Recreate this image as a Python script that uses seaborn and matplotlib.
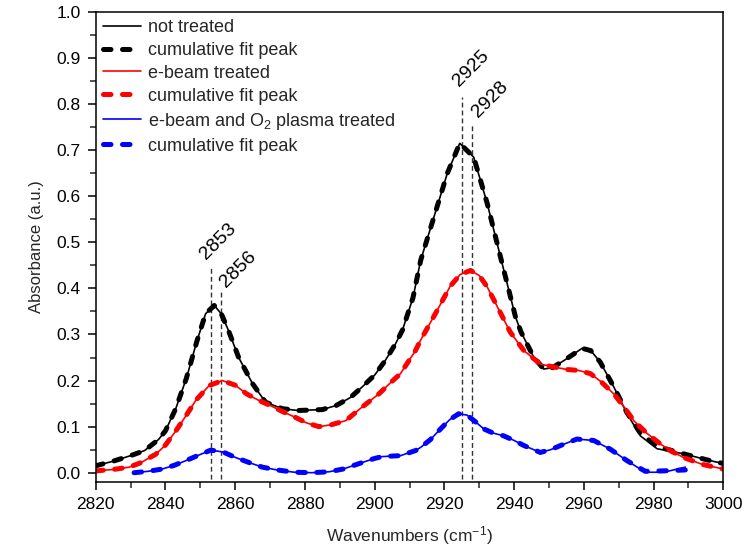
import numpy as np
import pandas as pd
import seaborn as sns
import matplotlib
matplotlib.use("Agg")
import matplotlib.pyplot as plt
from matplotlib.ticker import MultipleLocator, FormatStrFormatter

# ---------------- data ----------------
nt_x = [2820, 2825, 2830, 2834, 2838, 2840, 2843, 2846, 2849, 2851.5, 2854, 2856, 2858, 2861,
        2865, 2868.7, 2873.5, 2878, 2885, 2889, 2893, 2896.4, 2900, 2903, 2906, 2908, 2911,
        2913.2, 2917, 2920.8, 2924.4, 2928.4, 2932.3, 2936.1, 2940.4, 2942, 2945.6, 2948.5,
        2951, 2954.2, 2959.5, 2962, 2964.7, 2968.6, 2972.4, 2976.2, 2981, 2988.6, 2996.3, 3000]
nt_y = [0.015, 0.025, 0.037, 0.048, 0.072, 0.091, 0.14, 0.205, 0.285, 0.345, 0.363, 0.345, 0.31, 0.25,
        0.193, 0.153, 0.139, 0.135, 0.137, 0.146, 0.163, 0.186, 0.212, 0.243, 0.28, 0.31, 0.38,
        0.461, 0.555, 0.649, 0.715, 0.685, 0.584, 0.468, 0.338, 0.305, 0.251, 0.225,
        0.228, 0.243, 0.27, 0.265, 0.24, 0.186, 0.128, 0.08, 0.052, 0.041, 0.026, 0.02]
nt_fit_y = [0.015, 0.025, 0.037, 0.048, 0.072, 0.091, 0.14, 0.205, 0.285, 0.345, 0.363, 0.345, 0.31, 0.25,
            0.193, 0.153, 0.139, 0.135, 0.137, 0.146, 0.163, 0.186, 0.212, 0.243, 0.28, 0.31, 0.38,
            0.461, 0.555, 0.649, 0.715, 0.685, 0.584, 0.468, 0.338, 0.305, 0.251, 0.225,
            0.228, 0.243, 0.27, 0.265, 0.24, 0.186, 0.13, 0.086, 0.057, 0.041, 0.026, 0.02]

eb_x = [2820, 2825, 2829.6, 2833, 2837.2, 2840, 2843, 2846, 2848.7, 2852.5, 2856.3, 2860, 2863.3,
        2866.5, 2870, 2873.5, 2877.3, 2880.5, 2884, 2887.5, 2891.7, 2896, 2901.2, 2904.5, 2907.4,
        2911.7, 2913.2, 2917.4, 2919.9, 2921.7, 2924.5, 2927.5, 2930, 2932.3, 2935.2, 2938.9,
        2942.8, 2947.5, 2951, 2955.2, 2958.5, 2961.9, 2965, 2968.6, 2971.5, 2974.3, 2978, 2982,
        2985, 2988.6, 2994, 3000]
eb_y = [0.004, 0.007, 0.012, 0.022, 0.04, 0.06, 0.091, 0.125, 0.157, 0.189, 0.2, 0.19, 0.171,
        0.158, 0.146, 0.133, 0.12, 0.108, 0.1, 0.104, 0.113, 0.14, 0.171, 0.195, 0.215,
        0.265, 0.288, 0.345, 0.38, 0.405, 0.43, 0.439, 0.428, 0.403, 0.36, 0.305,
        0.265, 0.236, 0.23, 0.224, 0.222, 0.215, 0.197, 0.171, 0.143, 0.113, 0.086, 0.062,
        0.047, 0.033, 0.018, 0.008]
eb_fit_y = [0.004, 0.007, 0.012, 0.022, 0.04, 0.06, 0.091, 0.125, 0.157, 0.189, 0.2, 0.19, 0.171,
            0.158, 0.146, 0.133, 0.12, 0.108, 0.1, 0.104, 0.113, 0.14, 0.171, 0.195, 0.215,
            0.265, 0.288, 0.345, 0.38, 0.405, 0.43, 0.439, 0.428, 0.403, 0.36, 0.305,
            0.265, 0.236, 0.23, 0.224, 0.222, 0.215, 0.197, 0.171, 0.143, 0.113, 0.086, 0.062,
            0.047, 0.033, 0.018, 0.008]

o2_x = [2831, 2835, 2839.1, 2842.5, 2845.8, 2849.5, 2853, 2856.5, 2860.1, 2864, 2867.8, 2872, 2877,
        2882, 2886.9, 2891, 2896.4, 2900, 2902.2, 2907.4, 2911.7, 2913.2, 2916, 2918.9, 2921.5,
        2924.1, 2926.5, 2929, 2931.3, 2934, 2937, 2940, 2942.8, 2947.5, 2950.5, 2953.3, 2958,
        2962.8, 2967.6, 2972.4, 2977.6, 2982.9, 2989.1]
o2_y = [0.0, 0.003, 0.008, 0.016, 0.026, 0.038, 0.049, 0.045, 0.033, 0.022, 0.012, 0.006, 0.001,
        0.0, 0.002, 0.008, 0.022, 0.031, 0.035, 0.037, 0.048, 0.055, 0.072, 0.095, 0.115,
        0.128, 0.125, 0.11, 0.095, 0.086, 0.08, 0.07, 0.059, 0.044, 0.05, 0.059, 0.073,
        0.07, 0.051, 0.026, 0.001, 0.001, 0.012]
o2_fit_y = [0.0, 0.003, 0.008, 0.016, 0.026, 0.038, 0.049, 0.045, 0.033, 0.022, 0.012, 0.006, 0.001,
            0.0, 0.002, 0.008, 0.022, 0.031, 0.035, 0.037, 0.048, 0.055, 0.072, 0.095, 0.115,
            0.128, 0.125, 0.11, 0.095, 0.086, 0.08, 0.07, 0.059, 0.044, 0.05, 0.059, 0.073,
            0.07, 0.051, 0.026, 0.003, 0.004, 0.006]

labels = ["not treated", "cumulative fit peak", "e-beam treated", "cumulative fit peak",
          "e-beam and O$_2$ plasma treated", "cumulative fit peak"]
peak_pos = [2853, 2856, 2925, 2928]
peak_top = [0.446, 0.396, 0.816, 0.754]
peak_lbl = ["2853", "2856", "2925", "2928"]

# ---------------- style ----------------
sns.set_style("ticks")
plt.rcParams["font.family"] = ["Liberation Sans", "DejaVu Sans"]
plt.rcParams["mathtext.default"] = "regular"

fig = plt.figure(figsize=(7.45, 5.51), dpi=100)
ax = fig.add_axes([0.1285, 0.1258, 0.8424, 0.8524])

series = [
    (nt_x, nt_y, "black", False, labels[0]),
    (nt_x, nt_fit_y, "black", True, labels[1]),
    (eb_x, eb_y, "#ff0000", False, labels[2]),
    (eb_x, eb_fit_y, "#ff0000", True, labels[3]),
    (o2_x, o2_y, "#0000ff", False, labels[4]),
    (o2_x, o2_fit_y, "#0000ff", True, labels[5]),
]
for xs, ys, col, dashed, lab in series:
    df = pd.DataFrame({"x": xs, "y": ys})
    if dashed:
        sns.lineplot(data=df, x="x", y="y", ax=ax, color=col, lw=3.6, label=lab,
                     sort=False, estimator=None)
        ln = ax.lines[-1]
        ln.set_dashes((1.5, 2.3))
        ln.set_dash_capstyle("round")
    else:
        sns.lineplot(data=df, x="x", y="y", ax=ax, color=col, lw=1.2, label=lab,
                     sort=False, estimator=None)

# peak markers
offsets = [(-5, 7), (5, 2), (-3, 10), (6, 7)]
for p, t, s, off in zip(peak_pos, peak_top, peak_lbl, offsets):
    ax.vlines(p, -0.03, t, colors="#333333", linestyles=(0, (3.5, 2.2)), lw=1.0, zorder=1)
    ax.annotate(s, xy=(p, t), xytext=off, textcoords="offset pixels",
                rotation=45, rotation_mode="anchor", ha="left", va="baseline",
                fontsize=14, color="black")

ax.set_xlim(2820, 3000)
ax.set_ylim(-0.0195, 1.0)
ax.xaxis.set_major_locator(MultipleLocator(20))
ax.xaxis.set_minor_locator(MultipleLocator(10))
ax.yaxis.set_major_locator(MultipleLocator(0.1))
ax.yaxis.set_minor_locator(MultipleLocator(0.05))
ax.yaxis.set_major_formatter(FormatStrFormatter("%.1f"))
ax.tick_params(which="major", direction="out", length=6, width=1.1, labelsize=12.5,
               top=False, right=False, colors="black", pad=5)
ax.tick_params(which="minor", direction="out", length=4, width=1.1, top=False, right=False)
for sp in ax.spines.values():
    sp.set_visible(True)
    sp.set_linewidth(1.1)
    sp.set_color("black")

ax.set_xlabel("Wavenumbers (cm$^{-1}$)", fontsize=12.5, labelpad=9)
ax.set_ylabel("Absorbance (a.u.)", fontsize=12, labelpad=9)

leg = ax.legend(loc="upper left", frameon=False, fontsize=13, handlelength=2.1,
                handletextpad=0.42, labelspacing=0.33, borderaxespad=0.1, borderpad=0.28)

fig.savefig("out.png", dpi=100)
